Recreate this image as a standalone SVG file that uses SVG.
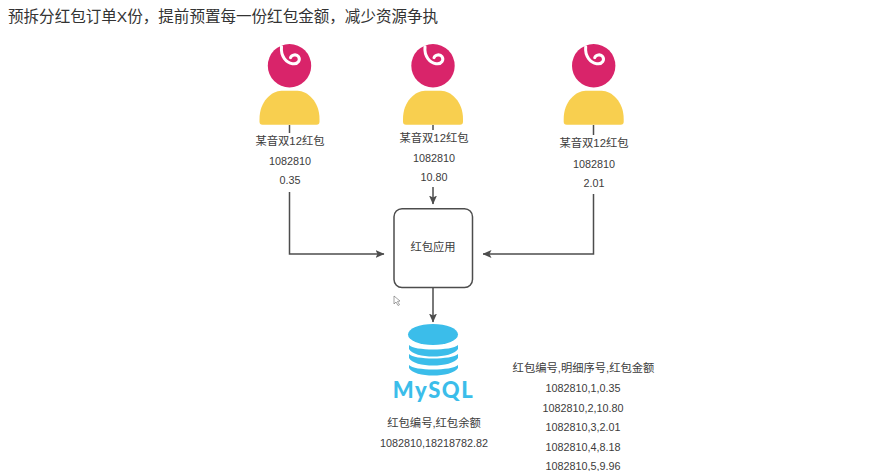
<svg xmlns="http://www.w3.org/2000/svg" width="873" height="471" viewBox="0 0 873 471">
<style>
text{font-family:"Liberation Sans","Noto Sans CJK SC",sans-serif;fill:#3c3c3c;text-anchor:middle;font-size:11.300px}
text.n{font-size:10.800px}
.title{font-size:15.550px;text-anchor:start;fill:#333}
.c{fill:none;stroke:#4d4d4d;stroke-width:1.5}
.head{fill:#d9246a}.body{fill:#f8cf4f}.swirl{fill:none;stroke:#fff;stroke-width:3;stroke-linecap:round}
.db{fill:#3bbdea}
</style>
<defs>
<marker id="a" markerWidth="9" markerHeight="8" refX="8.5" refY="4" orient="auto" markerUnits="userSpaceOnUse"><path d="M0 0L9 4L0 8L2 4Z" fill="#4d4d4d"/></marker>
<g id="person">
<circle class="head" cx="0" cy="0" r="21.7"/>
<path class="swirl" d="M-8-19C-9-9-3-3 3-2C9-1 11-6 9-9C7-12 2-11 1-8"/>
<path class="body" d="M-30 56V53C-30 36-18 25-8 25H8C18 25 30 36 30 53V56Q30 59 27 59H-27Q-30 59-30 56Z"/>
</g>
</defs>
<rect width="873" height="471" fill="#fff"/>
<text class="title" x="8" y="22">预拆分红包订单X份，提前预置每一份红包金额，减少资源争执</text>
<g id="connectors">
<path class="c" d="M289.500 125V133"/>
<path class="c" d="M433 125V130"/>
<path class="c" d="M593.500 125V135"/>
<path class="c" d="M289.500 192V254H384" marker-end="url(#a)"/>
<path class="c" d="M433 187V204" marker-end="url(#a)"/>
<path class="c" d="M593.500 194V254H483" marker-end="url(#a)"/>
<path class="c" d="M433 288V322" marker-end="url(#a)"/>
</g>
<g id="user1"><use href="#person" x="289.500" y="65.700"/>
<text x="290" y="145">某音双12红包</text><text class="n" x="290" y="165">1082810</text><text class="n" x="290" y="184">0.35</text></g>
<g id="user2"><use href="#person" x="433" y="65.700"/>
<text x="434" y="142">某音双12红包</text><text class="n" x="434" y="162">1082810</text><text class="n" x="434" y="181">10.80</text></g>
<g id="user3"><use href="#person" x="593.700" y="65.700"/>
<text x="594" y="147">某音双12红包</text><text class="n" x="594" y="168">1082810</text><text class="n" x="594" y="187">2.01</text></g>
<g id="app"><rect x="394" y="208.700" width="78.500" height="78.800" rx="8" fill="#fff" stroke="#4d4d4d" stroke-width="1.500"/>
<text x="433" y="251">红包应用</text></g>
<path d="M394 296V304L396 302L398 305.500L399.500 304.700L397.500 301.500L400 301Z" fill="#fff" stroke="#666" stroke-width=".6"/>
<g id="mysql">
<ellipse class="db" cx="433" cy="334.500" rx="25" ry="10.500"/>
<path class="db" d="M409 345C414 351 452 351 458 345V349C452 359 414 359 409 349Z"/>
<path class="db" d="M409 354C414 360 452 360 458 354V358C452 368 414 368 409 358Z"/>
<path class="db" d="M409 365C414 371 452 371 458 365V368C452 378 414 378 409 368Z"/>
<text x="433.500" y="397.500" style="font-family:'Lato',sans-serif;font-weight:900;font-size:22px;fill:#3bbdea;letter-spacing:1.500px">MySQL</text>
<text x="434" y="427">红包编号,红包余额</text><text class="n" x="434" y="447">1082810,18218782.82</text></g>
<g id="detail">
<text x="583.500" y="372">红包编号,明细序号,红包金额</text>
<text class="n" x="583" y="392">1082810,1,0.35</text>
<text class="n" x="583" y="412">1082810,2,10.80</text>
<text class="n" x="583" y="431">1082810,3,2.01</text>
<text class="n" x="583" y="451">1082810,4,8.18</text>
<text class="n" x="583" y="470">1082810,5,9.96</text></g>
</svg>
